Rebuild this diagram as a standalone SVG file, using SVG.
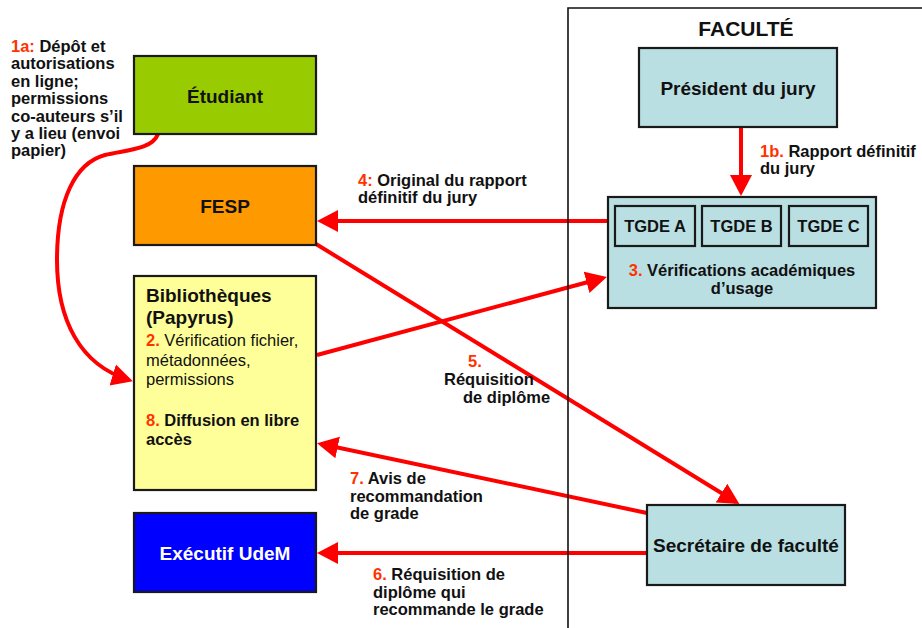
<svg xmlns="http://www.w3.org/2000/svg" width="922" height="628" viewBox="0 0 922 628">
<defs>
<style>
text{font-family:"Liberation Sans",Arial,sans-serif;fill:#111}
.n{font-size:19px;font-weight:bold;text-anchor:middle}
.l{font-size:16.5px;font-weight:bold}
.r{fill:#ff3300}
.reg{font-weight:normal}
.box{stroke:#1a1a1a;stroke-width:2.2}
.teal{fill:#b9dfe3}
.c{fill:none;stroke:#ff0000;stroke-width:4}
</style>
<marker id="ah" markerUnits="userSpaceOnUse" markerWidth="22" markerHeight="24" refX="17" refY="11" orient="auto" viewBox="0 0 22 22">
<path d="M0,0 L21,11 L0,22 z" fill="#ff0000"/>
</marker>
</defs>
<rect width="922" height="628" fill="#fff"/>

<g id="connectors">
<path class="c" d="M158,134 C152,150 125,150 105,155 C75,163 57,200 57,260 C57,320 80,365 129,380" marker-end="url(#ah)"/>
<line class="c" x1="741" y1="127" x2="741" y2="192" marker-end="url(#ah)"/>
<line class="c" x1="608" y1="221" x2="321" y2="221" marker-end="url(#ah)"/>
<line class="c" x1="317" y1="355" x2="603" y2="278" marker-end="url(#ah)"/>
<line class="c" x1="316" y1="244" x2="736" y2="502" marker-end="url(#ah)"/>
<line class="c" x1="647" y1="513" x2="321" y2="444" marker-end="url(#ah)"/>
<line class="c" x1="647" y1="553" x2="321" y2="553" marker-end="url(#ah)"/>
</g>

<g id="faculte">
<path d="M922,8 H568 V628" fill="none" stroke="#111" stroke-width="1.6"/>
<text class="n" x="746" y="36" style="font-size:21px">FACULTÉ</text>
</g>

<g id="etudiant">
<rect class="box" x="134" y="56" width="182" height="78" fill="#99cc00"/>
<text class="n" x="225" y="103">Étudiant</text>
</g>

<g id="fesp">
<rect class="box" x="134" y="166" width="182" height="79" fill="#ff9900"/>
<text class="n" x="225" y="213">FESP</text>
</g>

<g id="bibliotheques">
<rect class="box" x="134" y="276" width="182" height="214" fill="#ffff99"/>
<text x="146" y="302" style="font-size:19px;font-weight:bold">Bibliothèques</text>
<text x="146" y="324" style="font-size:19px;font-weight:bold">(Papyrus)</text>
<text x="146" y="346" class="l reg"><tspan class="r" style="font-weight:bold">2.</tspan> Vérification fichier,</text>
<text x="146" y="366" class="l reg">métadonnées,</text>
<text x="146" y="385" class="l reg">permissions</text>
<text x="146" y="426" class="l"><tspan class="r">8.</tspan> Diffusion en libre</text>
<text x="146" y="445" class="l">accès</text>
</g>

<g id="executif">
<rect class="box" x="134" y="513" width="182" height="79" fill="#0000ff"/>
<text class="n" x="225" y="560" style="fill:#fff">Exécutif UdeM</text>
</g>

<g id="president">
<rect class="box teal" x="639" y="48" width="198" height="79"/>
<text class="n" x="738" y="95">Président du jury</text>
</g>

<g id="tgde">
<rect class="box teal" x="608" y="197" width="268" height="111"/>
<rect class="box teal" x="615" y="206" width="80" height="40"/>
<rect class="box teal" x="702" y="206" width="79" height="40"/>
<rect class="box teal" x="789" y="206" width="79" height="40"/>
<text class="l" x="655" y="232" text-anchor="middle">TGDE A</text>
<text class="l" x="741.5" y="232" text-anchor="middle">TGDE B</text>
<text class="l" x="828.5" y="232" text-anchor="middle">TGDE C</text>
<text class="l" x="742" y="276" text-anchor="middle"><tspan class="r">3.</tspan> Vérifications académiques</text>
<text class="l" x="742" y="294" text-anchor="middle">d’usage</text>
</g>

<g id="secretaire">
<rect class="box teal" x="647" y="505" width="198" height="80"/>
<text class="n" x="746" y="552">Secrétaire de faculté</text>
</g>

<g id="labels">
<text class="l" x="11" y="52"><tspan class="r">1a:</tspan> Dépôt et</text>
<text class="l" x="11" y="69.4">autorisations</text>
<text class="l" x="11" y="86.8">en ligne;</text>
<text class="l" x="11" y="104.2">permissions</text>
<text class="l" x="11" y="121.6">co-auteurs s’il</text>
<text class="l" x="11" y="139">y a lieu (envoi</text>
<text class="l" x="11" y="156.4">papier)</text>

<text class="l" x="760" y="157"><tspan class="r">1b.</tspan> Rapport définitif</text>
<text class="l" x="760" y="174">du jury</text>

<text class="l" x="358" y="186"><tspan class="r">4:</tspan> Original du rapport</text>
<text class="l" x="358" y="203">définitif du jury</text>

<text class="l r" x="468" y="367">5.</text>
<text class="l" x="444" y="385">Réquisition</text>
<text class="l" x="463" y="403">de diplôme</text>

<text class="l" x="350" y="484"><tspan class="r">7.</tspan> Avis de</text>
<text class="l" x="350" y="501.5">recommandation</text>
<text class="l" x="350" y="519">de grade</text>

<text class="l" x="373" y="580"><tspan class="r">6.</tspan> Réquisition de</text>
<text class="l" x="373" y="597.5">diplôme qui</text>
<text class="l" x="373" y="615">recommande le grade</text>
</g>
</svg>
